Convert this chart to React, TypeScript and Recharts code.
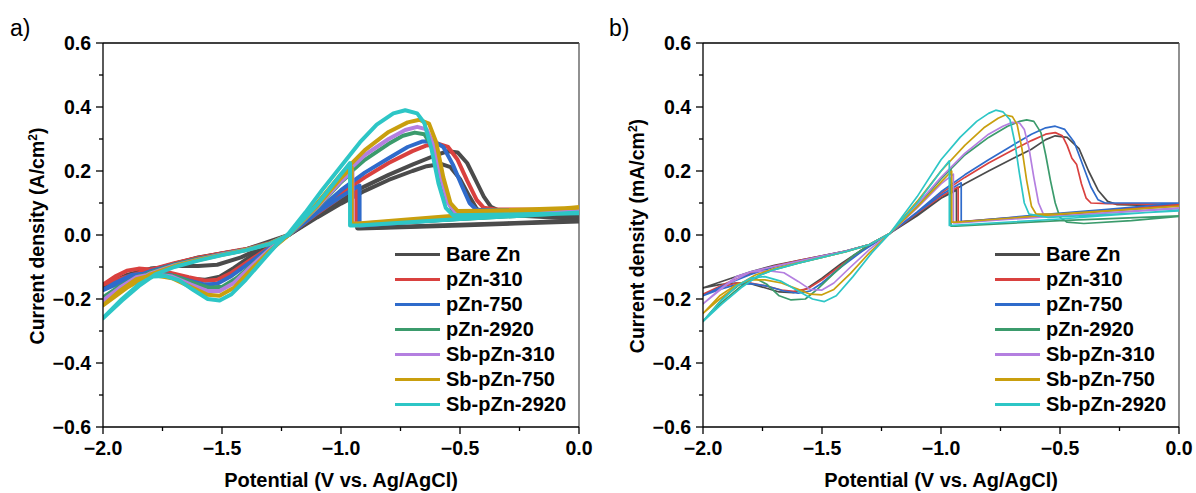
import { Legend, Line, LineChart, ReferenceLine, XAxis, YAxis } from 'recharts';

type Pt = [number, number];

const FONT = '"Liberation Sans", Arial, Helvetica, sans-serif';

const seriesNames = ['Bare Zn', 'pZn-310', 'pZn-750', 'pZn-2920', 'Sb-pZn-310', 'Sb-pZn-750', 'Sb-pZn-2920'];
const seriesColors = ['#4b4b4b', '#d9413f', '#2f6bcb', '#3b9b6c', '#b47fe0', '#c99f0e', '#2dc6c6'];

const xTicks = [-2, -1.75, -1.5, -1.25, -1, -0.75, -0.5, -0.25, 0];
const yTicks = [-0.6, -0.5, -0.4, -0.3, -0.2, -0.1, 0, 0.1, 0.2, 0.3, 0.4, 0.5, 0.6];

// panel a) — each loop: cathodic flat, spike, back down to -2 V, nucleation dip, stripping peak
const bareA: Pt[] = [
  [0, 0.045], [-0.3, 0.037], [-0.6, 0.03], [-0.92, 0.022], [-0.932, 0.022], [-0.932, 0.13],
  [-1.0, 0.105], [-1.1, 0.06], [-1.22, 0], [-1.3, -0.026], [-1.4, -0.045], [-1.5, -0.058],
  [-1.6, -0.072], [-1.7, -0.09], [-1.8, -0.112], [-1.9, -0.138], [-2.0, -0.165],
  [-1.95, -0.15], [-1.88, -0.13], [-1.8, -0.122], [-1.72, -0.127], [-1.64, -0.137], [-1.57, -0.14],
  [-1.51, -0.13], [-1.45, -0.103], [-1.38, -0.067], [-1.3, -0.032], [-1.22, 0],
  [-1.1, 0.062], [-1.0, 0.112], [-0.9, 0.152], [-0.8, 0.188], [-0.7, 0.22], [-0.6, 0.25],
  [-0.55, 0.262], [-0.51, 0.258], [-0.47, 0.225], [-0.43, 0.165], [-0.4, 0.12], [-0.37, 0.088],
  [-0.33, 0.074], [-0.15, 0.066], [0, 0.058],
];
// a later, weaker Bare Zn cycle (the band under the main peak)
const bareA2: Pt[] = [
  [0, 0.042], [-0.5, 0.03], [-0.92, 0.02], [-0.93, 0.02], [-0.93, 0.125],
  [-1.0, 0.1], [-1.1, 0.055], [-1.22, 0], [-1.4, -0.045], [-1.6, -0.07], [-1.8, -0.11], [-2.0, -0.16],
  [-1.9, -0.125], [-1.8, -0.105], [-1.7, -0.097], [-1.6, -0.097], [-1.52, -0.093], [-1.42, -0.07],
  [-1.32, -0.035], [-1.22, 0],
  [-1.1, 0.055], [-1.0, 0.098], [-0.9, 0.138], [-0.8, 0.172], [-0.7, 0.2], [-0.64, 0.215],
  [-0.58, 0.222], [-0.54, 0.212], [-0.5, 0.175], [-0.46, 0.12], [-0.43, 0.082], [-0.38, 0.066], [0, 0.05],
];
const redA: Pt[] = [
  [0, 0.075], [-0.3, 0.062], [-0.6, 0.048], [-0.92, 0.03], [-0.935, 0.03], [-0.935, 0.15],
  [-1.0, 0.12], [-1.1, 0.068], [-1.22, 0], [-1.3, -0.025], [-1.4, -0.044], [-1.5, -0.057],
  [-1.6, -0.071], [-1.7, -0.088], [-1.8, -0.108], [-1.9, -0.13], [-2.0, -0.155],
  [-1.95, -0.13], [-1.9, -0.112], [-1.85, -0.105], [-1.8, -0.108], [-1.72, -0.118], [-1.64, -0.132],
  [-1.57, -0.143], [-1.52, -0.14], [-1.46, -0.118], [-1.38, -0.078], [-1.3, -0.038], [-1.22, 0],
  [-1.1, 0.07], [-1.0, 0.13], [-0.9, 0.18], [-0.8, 0.225], [-0.7, 0.262], [-0.64, 0.28],
  [-0.59, 0.285], [-0.55, 0.275], [-0.51, 0.235], [-0.47, 0.17], [-0.43, 0.11], [-0.4, 0.085],
  [-0.35, 0.08], [-0.15, 0.079], [0, 0.078],
];
const blueA: Pt[] = [
  [0, 0.072], [-0.3, 0.06], [-0.6, 0.046], [-0.91, 0.03], [-0.922, 0.03], [-0.922, 0.155],
  [-1.0, 0.12], [-1.1, 0.07], [-1.22, 0], [-1.3, -0.026], [-1.4, -0.046], [-1.5, -0.06],
  [-1.6, -0.075], [-1.7, -0.092], [-1.8, -0.113], [-1.9, -0.14], [-2.0, -0.172],
  [-1.95, -0.15], [-1.88, -0.125], [-1.8, -0.118], [-1.72, -0.125], [-1.64, -0.142], [-1.57, -0.155],
  [-1.52, -0.152], [-1.46, -0.128], [-1.38, -0.085], [-1.3, -0.04], [-1.22, 0],
  [-1.1, 0.075], [-1.0, 0.14], [-0.9, 0.195], [-0.8, 0.24], [-0.72, 0.275], [-0.66, 0.292],
  [-0.61, 0.293], [-0.57, 0.275], [-0.53, 0.22], [-0.49, 0.15], [-0.46, 0.1], [-0.43, 0.078],
  [-0.3, 0.078], [0, 0.076],
];
const greenA: Pt[] = [
  [0, 0.07], [-0.5, 0.05], [-0.93, 0.032], [-0.955, 0.032], [-0.955, 0.195],
  [-1.0, 0.165], [-1.1, 0.085], [-1.22, 0], [-1.3, -0.026], [-1.4, -0.046], [-1.5, -0.06],
  [-1.6, -0.075], [-1.7, -0.093], [-1.8, -0.117], [-1.9, -0.15], [-2.0, -0.195],
  [-1.93, -0.16], [-1.85, -0.128], [-1.78, -0.12], [-1.7, -0.128], [-1.62, -0.15], [-1.55, -0.165],
  [-1.5, -0.162], [-1.44, -0.135], [-1.36, -0.085], [-1.29, -0.038], [-1.22, 0],
  [-1.1, 0.09], [-1.0, 0.17], [-0.9, 0.235], [-0.8, 0.285], [-0.74, 0.31], [-0.69, 0.32],
  [-0.65, 0.315], [-0.62, 0.28], [-0.59, 0.2], [-0.56, 0.12], [-0.53, 0.075], [-0.45, 0.068], [0, 0.072],
];
const purpleA: Pt[] = [
  [0, 0.078], [-0.5, 0.056], [-0.93, 0.035], [-0.952, 0.035], [-0.952, 0.2],
  [-1.0, 0.168], [-1.1, 0.087], [-1.22, 0], [-1.3, -0.027], [-1.4, -0.047], [-1.5, -0.061],
  [-1.6, -0.077], [-1.7, -0.095], [-1.8, -0.12], [-1.9, -0.158], [-2.0, -0.205],
  [-1.93, -0.165], [-1.86, -0.132], [-1.79, -0.122], [-1.71, -0.13], [-1.63, -0.155], [-1.56, -0.175],
  [-1.51, -0.175], [-1.45, -0.15], [-1.38, -0.1], [-1.3, -0.045], [-1.22, 0],
  [-1.1, 0.095], [-1.0, 0.18], [-0.9, 0.25], [-0.8, 0.3], [-0.73, 0.328], [-0.68, 0.338],
  [-0.64, 0.33], [-0.61, 0.28], [-0.58, 0.18], [-0.55, 0.1], [-0.52, 0.072], [-0.4, 0.072], [0, 0.078],
];
const goldA: Pt[] = [
  [0, 0.087], [-0.5, 0.062], [-0.93, 0.036], [-0.955, 0.036], [-0.955, 0.212],
  [-1.0, 0.178], [-1.1, 0.09], [-1.22, 0], [-1.3, -0.027], [-1.4, -0.047], [-1.5, -0.062],
  [-1.6, -0.078], [-1.7, -0.097], [-1.8, -0.123], [-1.9, -0.165], [-2.0, -0.22],
  [-1.93, -0.175], [-1.86, -0.138], [-1.79, -0.125], [-1.71, -0.135], [-1.63, -0.163], [-1.56, -0.187],
  [-1.51, -0.19], [-1.45, -0.165], [-1.38, -0.11], [-1.3, -0.05], [-1.22, 0],
  [-1.1, 0.1], [-1.0, 0.19], [-0.9, 0.265], [-0.8, 0.322], [-0.72, 0.352], [-0.67, 0.36],
  [-0.63, 0.348], [-0.6, 0.29], [-0.57, 0.18], [-0.54, 0.1], [-0.51, 0.075], [-0.4, 0.076], [0, 0.085],
];
const cyanA: Pt[] = [
  [0, 0.07], [-0.5, 0.05], [-0.93, 0.03], [-0.962, 0.03], [-0.962, 0.225],
  [-1.0, 0.19], [-1.1, 0.095], [-1.22, 0], [-1.3, -0.028], [-1.4, -0.048], [-1.5, -0.063],
  [-1.6, -0.08], [-1.7, -0.1], [-1.78, -0.123], [-1.85, -0.16], [-1.92, -0.205], [-2.0, -0.26],
  [-1.92, -0.2], [-1.85, -0.155], [-1.79, -0.13], [-1.74, -0.128], [-1.68, -0.142], [-1.62, -0.172],
  [-1.56, -0.2], [-1.51, -0.205], [-1.46, -0.185], [-1.4, -0.14], [-1.33, -0.08], [-1.27, -0.03],
  [-1.22, 0.005], [-1.15, 0.07], [-1.08, 0.14], [-1.0, 0.215], [-0.92, 0.29], [-0.85, 0.345],
  [-0.78, 0.38], [-0.73, 0.39], [-0.68, 0.38], [-0.65, 0.35], [-0.62, 0.27], [-0.59, 0.16],
  [-0.56, 0.085], [-0.53, 0.062], [-0.3, 0.064], [0, 0.068],
];

// panel b)
const bareB: Pt[] = [
  [0, 0.092], [-0.3, 0.075], [-0.6, 0.058], [-0.92, 0.04], [-0.935, 0.04], [-0.935, 0.14],
  [-1.0, 0.115], [-1.1, 0.065], [-1.215, 0.005], [-1.3, -0.03], [-1.4, -0.05], [-1.5, -0.065],
  [-1.6, -0.08], [-1.7, -0.095], [-1.8, -0.115], [-1.9, -0.14], [-2.0, -0.165],
  [-1.93, -0.155], [-1.86, -0.15], [-1.8, -0.152], [-1.74, -0.165], [-1.68, -0.178], [-1.62, -0.18],
  [-1.57, -0.17], [-1.5, -0.135], [-1.42, -0.09], [-1.33, -0.045], [-1.215, 0.005],
  [-1.1, 0.06], [-1.0, 0.115], [-0.9, 0.16], [-0.8, 0.2], [-0.7, 0.238], [-0.62, 0.268],
  [-0.56, 0.298], [-0.52, 0.31], [-0.47, 0.305], [-0.42, 0.27], [-0.38, 0.2], [-0.34, 0.14],
  [-0.3, 0.105], [-0.26, 0.095], [0, 0.09],
];
const redB: Pt[] = [
  [0, 0.095], [-0.3, 0.078], [-0.6, 0.06], [-0.915, 0.042], [-0.928, 0.042], [-0.928, 0.15],
  [-1.0, 0.12], [-1.1, 0.068], [-1.215, 0.005], [-1.3, -0.03], [-1.4, -0.05], [-1.5, -0.065],
  [-1.6, -0.08], [-1.7, -0.097], [-1.8, -0.12], [-1.9, -0.15], [-2.0, -0.185],
  [-1.93, -0.165], [-1.86, -0.15], [-1.8, -0.15], [-1.73, -0.16], [-1.67, -0.172], [-1.62, -0.176],
  [-1.56, -0.168], [-1.5, -0.14], [-1.42, -0.095], [-1.33, -0.045], [-1.215, 0.005],
  [-1.1, 0.07], [-1.0, 0.13], [-0.9, 0.18], [-0.8, 0.225], [-0.7, 0.265], [-0.62, 0.295],
  [-0.56, 0.315], [-0.52, 0.32], [-0.49, 0.31], [-0.47, 0.28], [-0.45, 0.24], [-0.43, 0.22],
  [-0.41, 0.16], [-0.39, 0.115], [-0.37, 0.1], [-0.3, 0.098], [0, 0.096],
];
const blueB: Pt[] = [
  [0, 0.1], [-0.3, 0.08], [-0.6, 0.062], [-0.905, 0.042], [-0.915, 0.042], [-0.915, 0.163],
  [-1.0, 0.125], [-1.1, 0.07], [-1.215, 0.005], [-1.3, -0.03], [-1.4, -0.05], [-1.5, -0.066],
  [-1.6, -0.082], [-1.7, -0.1], [-1.8, -0.123], [-1.9, -0.153], [-2.0, -0.19],
  [-1.93, -0.17], [-1.86, -0.155], [-1.8, -0.152], [-1.73, -0.16], [-1.66, -0.175], [-1.6, -0.182],
  [-1.55, -0.175], [-1.5, -0.15], [-1.42, -0.1], [-1.33, -0.05], [-1.215, 0.005],
  [-1.1, 0.072], [-1.0, 0.135], [-0.9, 0.188], [-0.8, 0.235], [-0.7, 0.28], [-0.62, 0.315],
  [-0.56, 0.335], [-0.52, 0.34], [-0.48, 0.33], [-0.44, 0.29], [-0.4, 0.21], [-0.37, 0.15],
  [-0.34, 0.11], [-0.31, 0.1], [0, 0.1],
];
const greenB: Pt[] = [
  [0, 0.06], [-0.5, 0.045], [-0.94, 0.028], [-0.958, 0.028], [-0.958, 0.21],
  [-1.0, 0.175], [-1.1, 0.09], [-1.215, 0.005], [-1.3, -0.03], [-1.4, -0.052], [-1.5, -0.07],
  [-1.6, -0.088], [-1.7, -0.108], [-1.76, -0.125], [-1.84, -0.16], [-1.92, -0.21], [-2.0, -0.27],
  [-1.92, -0.2], [-1.84, -0.15], [-1.78, -0.135], [-1.73, -0.155], [-1.68, -0.19], [-1.63, -0.203],
  [-1.57, -0.2], [-1.52, -0.17], [-1.45, -0.12], [-1.37, -0.065], [-1.3, -0.03], [-1.215, 0.005],
  [-1.1, 0.09], [-1.0, 0.175], [-0.9, 0.25], [-0.8, 0.305], [-0.72, 0.34], [-0.67, 0.355],
  [-0.64, 0.36], [-0.61, 0.355], [-0.58, 0.32], [-0.56, 0.25], [-0.54, 0.17], [-0.52, 0.1],
  [-0.5, 0.055], [-0.47, 0.04], [-0.4, 0.036], [-0.2, 0.045], [0, 0.058],
];
const purpleB: Pt[] = [
  [0, 0.085], [-0.5, 0.06], [-0.93, 0.038], [-0.948, 0.038], [-0.948, 0.19],
  [-1.0, 0.16], [-1.1, 0.085], [-1.215, 0.005], [-1.3, -0.03], [-1.4, -0.05], [-1.5, -0.066],
  [-1.6, -0.082], [-1.7, -0.098], [-1.8, -0.115], [-1.9, -0.155], [-2.0, -0.215],
  [-1.93, -0.17], [-1.86, -0.13], [-1.8, -0.115], [-1.72, -0.112], [-1.66, -0.118], [-1.6, -0.145],
  [-1.55, -0.17], [-1.5, -0.172], [-1.45, -0.15], [-1.38, -0.1], [-1.3, -0.045], [-1.215, 0.005],
  [-1.1, 0.095], [-1.0, 0.18], [-0.9, 0.255], [-0.8, 0.315], [-0.74, 0.34], [-0.7, 0.352],
  [-0.67, 0.35], [-0.65, 0.33], [-0.63, 0.27], [-0.61, 0.18], [-0.59, 0.1], [-0.57, 0.065],
  [-0.5, 0.06], [0, 0.082],
];
const goldB: Pt[] = [
  [0, 0.09], [-0.5, 0.065], [-0.93, 0.04], [-0.955, 0.04], [-0.955, 0.2],
  [-1.0, 0.165], [-1.1, 0.088], [-1.215, 0.005], [-1.3, -0.03], [-1.4, -0.052], [-1.5, -0.07],
  [-1.6, -0.087], [-1.7, -0.105], [-1.78, -0.125], [-1.86, -0.16], [-1.93, -0.2], [-2.0, -0.245],
  [-1.93, -0.19], [-1.86, -0.155], [-1.8, -0.14], [-1.74, -0.14], [-1.67, -0.15], [-1.6, -0.17],
  [-1.55, -0.185], [-1.5, -0.187], [-1.45, -0.17], [-1.38, -0.12], [-1.3, -0.055], [-1.215, 0.005],
  [-1.1, 0.105], [-1.0, 0.2], [-0.9, 0.28], [-0.82, 0.335], [-0.76, 0.365], [-0.73, 0.375],
  [-0.7, 0.37], [-0.68, 0.345], [-0.66, 0.27], [-0.64, 0.17], [-0.62, 0.09], [-0.6, 0.065],
  [-0.5, 0.066], [0, 0.09],
];
const cyanB: Pt[] = [
  [0, 0.078], [-0.5, 0.05], [-0.95, 0.03], [-0.965, 0.03], [-0.965, 0.232],
  [-1.0, 0.2], [-1.1, 0.1], [-1.215, 0.005], [-1.3, -0.03], [-1.4, -0.052], [-1.5, -0.07],
  [-1.6, -0.088], [-1.7, -0.108], [-1.77, -0.128], [-1.84, -0.165], [-1.92, -0.215], [-2.0, -0.27],
  [-1.93, -0.21], [-1.86, -0.16], [-1.8, -0.135], [-1.74, -0.13], [-1.67, -0.145], [-1.6, -0.175],
  [-1.54, -0.2], [-1.49, -0.208], [-1.44, -0.19], [-1.37, -0.13], [-1.29, -0.055], [-1.215, 0.005],
  [-1.1, 0.12], [-1.0, 0.235], [-0.92, 0.305], [-0.85, 0.355], [-0.8, 0.38], [-0.77, 0.39],
  [-0.74, 0.385], [-0.71, 0.36], [-0.69, 0.29], [-0.67, 0.19], [-0.65, 0.1], [-0.63, 0.065],
  [-0.55, 0.055], [0, 0.075],
];

// [series index, loop]
const panelA: [number, Pt[]][] = [
  [0, bareA2], [0, bareA], [1, redA], [2, blueA], [3, greenA], [4, purpleA], [5, goldA], [6, cyanA],
];
const panelB: [number, Pt[]][] = [
  [0, bareB], [1, redB], [2, blueB], [3, greenB], [4, purpleB], [5, goldB], [6, cyanB],
];

const fmt = (v: number) => v.toFixed(1).replace('-', '\u2212');

function YTick({ x, y, payload }: any) {
  const major = Math.abs(Math.round(payload.value * 10)) % 2 === 0;
  return (
    <g>
      <line x1={x - (major ? 7 : 4)} x2={x} y1={y} y2={y} stroke="#000" strokeWidth={1.3} />
      {major && (
        <text x={x - 12} y={y + 7} textAnchor="end" fontFamily={FONT} fontWeight={700} fontSize={19.5} fill="#000">
          {fmt(payload.value)}
        </text>
      )}
    </g>
  );
}

function XTick({ x, y, payload }: any) {
  const major = Math.abs(Math.round(payload.value * 4)) % 2 === 0;
  return (
    <g>
      <line x1={x} x2={x} y1={y} y2={y + (major ? 7 : 4)} stroke="#000" strokeWidth={1.3} />
      {major && (
        <text x={x} y={y + 28} textAnchor="middle" fontFamily={FONT} fontWeight={700} fontSize={19.5} fill="#000">
          {fmt(payload.value)}
        </text>
      )}
    </g>
  );
}

function LegendBox({ thick }: { thick: number }) {
  return (
    <div style={{ fontFamily: FONT, fontWeight: 700, fontSize: 20, color: '#000' }}>
      {seriesNames.map((n, i) => (
        <div key={n} style={{ display: 'flex', alignItems: 'center', height: 25, whiteSpace: 'nowrap' }}>
          <span style={{ display: 'inline-block', width: 45, height: thick, background: seriesColors[i], marginRight: 6 }} />
          <span>{n}</span>
        </div>
      ))}
    </div>
  );
}

function Panel({ loops, unit, width, right, stroke }: { loops: [number, Pt[]][]; unit: string; width: number; right: number; stroke: number }) {
  return (
    <LineChart width={width} height={493} margin={{ top: 43, right, bottom: 26, left: 40 }}>
      <XAxis
        type="number"
        dataKey="x"
        domain={[-2, 0]}
        ticks={xTicks}
        interval={0}
        allowDataOverflow
        height={40}
        tickLine={false}
        tickSize={0}
        tickMargin={0}
        tick={<XTick />}
        axisLine={{ stroke: '#000', strokeWidth: 1.3 }}
        label={{
          content: ({ viewBox }: any) => (
            <text x={viewBox.x + viewBox.width / 2} y={487} textAnchor="middle" fontFamily={FONT} fontWeight={700} fontSize={20} fill="#000">
              Potential (V vs. Ag/AgCl)
            </text>
          ),
        }}
      />
      <YAxis
        type="number"
        domain={[-0.6, 0.6]}
        ticks={yTicks}
        interval={0}
        allowDataOverflow
        width={63}
        tickLine={false}
        tickSize={0}
        tickMargin={0}
        tick={<YTick />}
        axisLine={{ stroke: '#000', strokeWidth: 1.3 }}
        label={{
          content: () => (
            <text x={44} y={236} transform="rotate(-90, 44, 236)" textAnchor="middle" fontFamily={FONT} fontWeight={700} fontSize={19.5} fill="#000">
              Current density ({unit}/cm
              <tspan dy={-7} fontSize={12}>2</tspan>
              <tspan dy={7}>)</tspan>
            </text>
          ),
        }}
      />
      <ReferenceLine y={0.6} stroke="#000" strokeWidth={1.3} />
      <ReferenceLine x={0} stroke="#555" strokeWidth={1.3} />
      {loops.map(([s, pts], i) => (
        <Line
          key={i}
          name={seriesNames[s]}
          data={pts.map(([x, y]) => ({ x, y }))}
          dataKey="y"
          type="linear"
          stroke={seriesColors[s]}
          strokeWidth={stroke}
          strokeLinejoin="round"
          dot={false}
          activeDot={false}
          isAnimationActive={false}
        />
      ))}
      <Legend
        layout="vertical"
        align="center"
        verticalAlign="middle"
        wrapperStyle={{ left: 395, top: 242, width: 200, height: 175 }}
        content={() => <LegendBox thick={stroke > 2 ? 3 : 2.5} />}
      />
    </LineChart>
  );
}

export default function App() {
  return (
    <div style={{ position: 'absolute', left: 0, top: 0, width: 1196, height: 493, background: '#fff', overflow: 'hidden' }}>
      <div style={{ position: 'absolute', left: 10, top: 15, fontFamily: FONT, fontSize: 23, color: '#000' }}>a)</div>
      <div style={{ position: 'absolute', left: 609, top: 15, fontFamily: FONT, fontSize: 23, color: '#000' }}>b)</div>
      <div style={{ position: 'absolute', left: 0, top: 0 }}>
        <Panel loops={panelA} unit="A" width={598} right={19} stroke={4} />
      </div>
      <div style={{ position: 'absolute', left: 600, top: 0 }}>
        <Panel loops={panelB} unit="mA" width={596} right={17} stroke={1.7} />
      </div>
    </div>
  );
}
